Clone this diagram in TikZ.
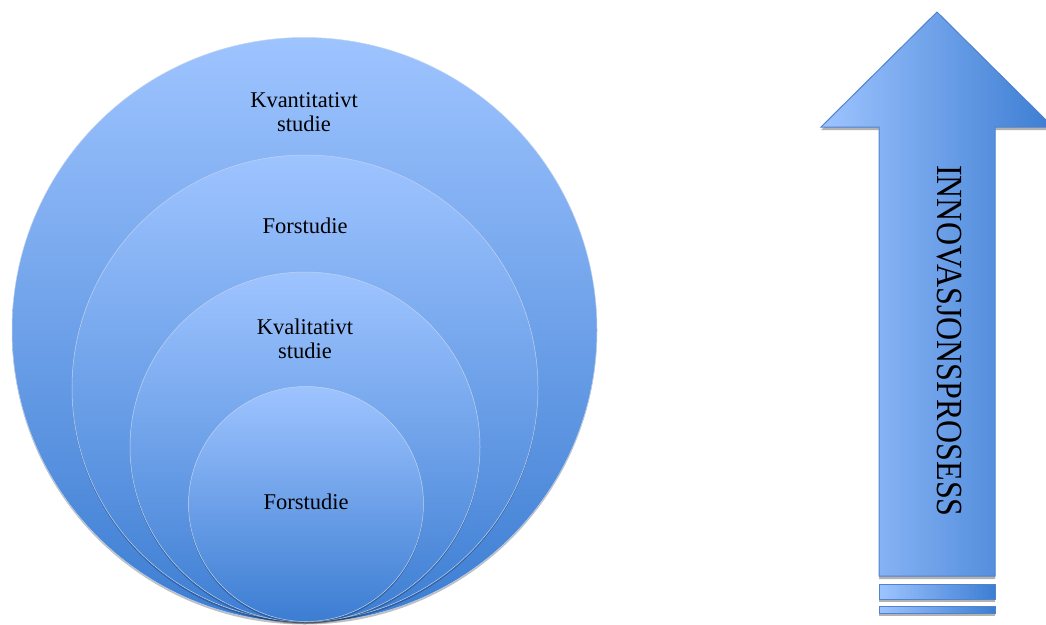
\documentclass[tikz,border=0pt]{standalone}
\usepackage{fontspec}
\setmainfont{Liberation Serif}
\usetikzlibrary{shadows}
\definecolor{bluetop}{RGB}{158,196,255}
\definecolor{bluemid}{RGB}{142,188,251}
\definecolor{bluebot}{RGB}{60,125,210}
\definecolor{blueedge}{RGB}{80,130,205}
\begin{document}
\begin{tikzpicture}[x=1pt, y=-1pt,
		ring/.style={circle, inner sep=0pt, minimum size=#1,
			draw=blueedge!35, line width=0.5pt,
			top color=bluetop, middle color=bluemid, bottom color=bluebot,
			drop shadow={shadow xshift=0pt, shadow yshift=-2pt, opacity=0.25, fill=black}},
		ringlabel/.style={font=\fontsize{22.5}{24}\selectfont, align=center, inner sep=0pt},
		arrowbox/.style={draw=blueedge, line width=1pt,
			left color=bluetop, middle color=bluemid, right color=bluebot,
			drop shadow={shadow xshift=0pt, shadow yshift=-3pt, opacity=0.3, fill=black}}
	]
	\useasboundingbox (0,0) rectangle (1046,624);

	% nested circles, all touching at the bottom
	\node[ring=585pt] (outer)  at (304.5,330) {};
	\node[ring=466pt] (second) at (305,388)   {};
	\node[ring=350pt] (third)  at (305,447)   {};
	\node[ring=235pt] (inner)  at (306,504)   {};

	\node[ringlabel] (kvant)  at (304,112) {Kvantitativt\\studie};
	\node[ringlabel] (fors1)  at (305,226) {Forstudie};
	\node[ringlabel] (kval)   at (305,339) {Kvalitativt\\studie};
	\node[ringlabel] (fors2)  at (306,502) {Forstudie};

	% arrow
	\draw[arrowbox] (879,576) -- (879,127) -- (821,127) -- (937,12) -- (1053,127)
		-- (995,127) -- (995,576) -- cycle;
	\draw[arrowbox] (879,584) rectangle (995,599);
	\draw[arrowbox] (879,606) rectangle (995,613);

	\node[rotate=-90, inner sep=0pt, font=\fontsize{32}{32}\selectfont] (proc) at (949.5,341) {\scalebox{1}[1.15]{INNOVASJONSPROSESS}};
\end{tikzpicture}
\end{document}
